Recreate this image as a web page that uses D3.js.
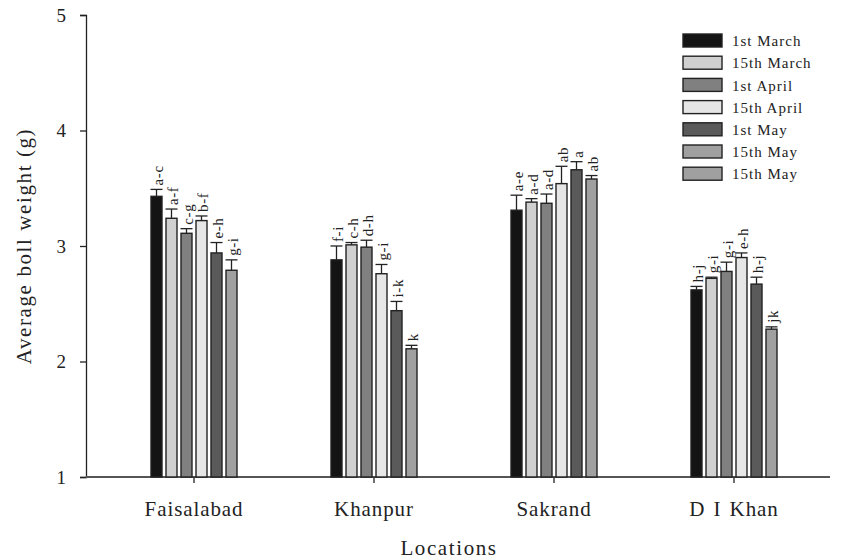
<!DOCTYPE html>
<html>
<head>
<meta charset="utf-8">
<script src="https://cdn.jsdelivr.net/npm/d3@7"></script>
<style>
  html, body { margin: 0; padding: 0; background: #fff; }
  svg { display: block; font-family: "Times New Roman", "Liberation Serif", serif; }
</style>
</head>
<body>
<svg id="chart" width="843" height="560"></svg>
<script>
// Locations and sowing dates
const locations = ["Faisalabad", "Khanpur", "Sakrand", "D I Khan"];
const sowingDates = ["1st March", "15th March", "1st April", "15th April", "1st May", "15th May"];
const legendLabels = ["1st March", "15th March", "1st April", "15th April", "1st May", "15th May", "15th May"];
const fillColors = ["#141414", "#d0d0d0", "#808080", "#e6e6e6", "#5a5a5a", "#a0a0a0", "#a0a0a0"];

// Mean boll weight (g) per sowing date, one array per location
const faisalabadMeans = [3.43, 3.24, 3.11, 3.22, 2.94, 2.79];
const khanpurMeans    = [2.88, 3.01, 2.99, 2.76, 2.44, 2.11];
const sakrandMeans    = [3.31, 3.38, 3.37, 3.54, 3.66, 3.58];
const diKhanMeans     = [2.62, 2.72, 2.78, 2.90, 2.67, 2.28];

// Standard errors (upper whisker)
const faisalabadErr = [0.06, 0.08, 0.04, 0.04, 0.09, 0.09];
const khanpurErr    = [0.12, 0.02, 0.06, 0.08, 0.08, 0.03];
const sakrandErr    = [0.13, 0.03, 0.08, 0.15, 0.07, 0.03];
const diKhanErr     = [0.03, 0.01, 0.08, 0.04, 0.06, 0.02];

// Mean separation letters
const faisalabadLetters = ["a-c", "a-f", "c-g", "b-f", "e-h", "g-i"];
const khanpurLetters    = ["f-i", "c-h", "d-h", "g-i", "i-k", "k"];
const sakrandLetters    = ["a-e", "a-d", "a-d", "ab", "a", "ab"];
const diKhanLetters     = ["h-j", "g-i", "g-i", "e-h", "h-j", "jk"];

const yTicks = [1, 2, 3, 4, 5];

const means = [faisalabadMeans, khanpurMeans, sakrandMeans, diKhanMeans];
const errs = [faisalabadErr, khanpurErr, sakrandErr, diKhanErr];
const letters = [faisalabadLetters, khanpurLetters, sakrandLetters, diKhanLetters];

const rows = [];
locations.forEach((loc, i) => {
  sowingDates.forEach((d, j) => {
    rows.push({ loc, date: d, idx: j, value: means[i][j], err: errs[i][j], letter: letters[i][j] });
  });
});

const svg = d3.select("#chart");
const axisLeft = 86, axisBottom = 477, axisTop = 15, axisRight = 830;
const serif = "'Times New Roman', 'Liberation Serif', serif";

const y = d3.scaleLinear().domain([1, 5]).range([axisBottom, axisTop]);
const x0 = d3.scaleBand().domain(locations).range([104, 824]).paddingInner(0);
const x1 = d3.scaleBand().domain(sowingDates).range([-43, 43]).paddingInner(0.267);
const color = d3.scaleOrdinal().domain(sowingDates).range(fillColors);

const center = loc => x0(loc) + x0.bandwidth() / 2;
const ink = "#222";

// Y axis
const yAxis = svg.append("g")
  .attr("transform", `translate(${axisLeft},0)`)
  .call(d3.axisLeft(y).tickValues(yTicks).tickFormat(d3.format("d")).tickSizeOuter(0).tickSize(6).tickPadding(14));
yAxis.select(".domain").attr("stroke", ink).attr("stroke-width", 1.3);
yAxis.selectAll(".tick line").attr("stroke", ink).attr("stroke-width", 1.3);
yAxis.selectAll(".tick text").attr("font-size", 19).attr("fill", "#222")
  .attr("font-family", serif);

// X axis
const xAxisG = svg.append("g").attr("transform", `translate(0,${axisBottom})`);
xAxisG.append("line").attr("x1", axisLeft).attr("x2", axisRight).attr("y1", 0).attr("y2", 0)
  .attr("stroke", "#555").attr("stroke-width", 2);
const xAxis = d3.axisBottom(x0).tickSize(6).tickSizeOuter(0).tickPadding(18);
const xg = xAxisG.append("g").call(xAxis);
xg.select(".domain").remove();
xg.selectAll(".tick line").attr("stroke", ink).attr("stroke-width", 1.3);
xg.selectAll(".tick text").attr("font-size", 21).attr("fill", "#222")
  .attr("letter-spacing", 0.9)
  .attr("word-spacing", 2)
  .attr("font-family", serif);

// Bars
const groups = svg.append("g").selectAll("g")
  .data(locations).join("g")
  .attr("transform", d => `translate(${center(d)},0)`);

groups.selectAll("rect")
  .data(loc => rows.filter(r => r.loc === loc))
  .join("rect")
  .attr("x", d => x1(d.date))
  .attr("width", x1.bandwidth())
  .attr("y", d => y(d.value))
  .attr("height", d => y(1) - y(d.value))
  .attr("fill", d => color(d.date))
  .attr("stroke", ink)
  .attr("stroke-width", 1.4);

// Error bars (upper whisker with cap)
const eb = groups.selectAll("g.err")
  .data(loc => rows.filter(r => r.loc === loc))
  .join("g").attr("class", "err");
eb.append("line")
  .attr("x1", d => x1(d.date) + x1.bandwidth() / 2)
  .attr("x2", d => x1(d.date) + x1.bandwidth() / 2)
  .attr("y1", d => y(d.value))
  .attr("y2", d => y(d.value + d.err))
  .attr("stroke", ink).attr("stroke-width", 1.3);
eb.append("line")
  .attr("x1", d => x1(d.date) + x1.bandwidth() / 2 - 6)
  .attr("x2", d => x1(d.date) + x1.bandwidth() / 2 + 6)
  .attr("y1", d => y(d.value + d.err))
  .attr("y2", d => y(d.value + d.err))
  .attr("stroke", ink).attr("stroke-width", 1.3);

// Letters above bars
groups.selectAll("text.letter")
  .data(loc => rows.filter(r => r.loc === loc))
  .join("text").attr("class", "letter")
  .attr("transform", d => `translate(${x1(d.date) + x1.bandwidth() / 2 + 1},${y(d.value + d.err) - 4}) rotate(-90)`)
  .attr("dy", "0.35em")
  .attr("text-anchor", "start")
  .attr("font-size", 15)
  .attr("letter-spacing", 0.6)
  .attr("fill", "#222")
  .text(d => d.letter);

// Axis titles
svg.append("text")
  .attr("transform", `translate(31,246) rotate(-90)`)
  .attr("text-anchor", "middle")
  .attr("font-size", 21).attr("fill", "#222")
  .attr("letter-spacing", 1.6)
  .text("Average boll weight (g)");
svg.append("text")
  .attr("x", 449).attr("y", 555)
  .attr("text-anchor", "middle")
  .attr("font-size", 21).attr("fill", "#222")
  .attr("letter-spacing", 1.6)
  .text("Locations");

// Legend
const legend = svg.append("g").attr("transform", "translate(683,34)");
const li = legend.selectAll("g").data(legendLabels).join("g")
  .attr("transform", (d, i) => `translate(0,${i * 22.2})`);
li.append("rect")
  .attr("width", 39).attr("height", 13)
  .attr("fill", (d, i) => fillColors[i])
  .attr("stroke", ink).attr("stroke-width", 1.4);
li.append("text")
  .attr("x", 49).attr("y", 7)
  .attr("dy", "0.35em")
  .attr("font-size", 15).attr("fill", "#222")
  .attr("letter-spacing", 1)
  .text(d => d);
</script>
</body>
</html>
